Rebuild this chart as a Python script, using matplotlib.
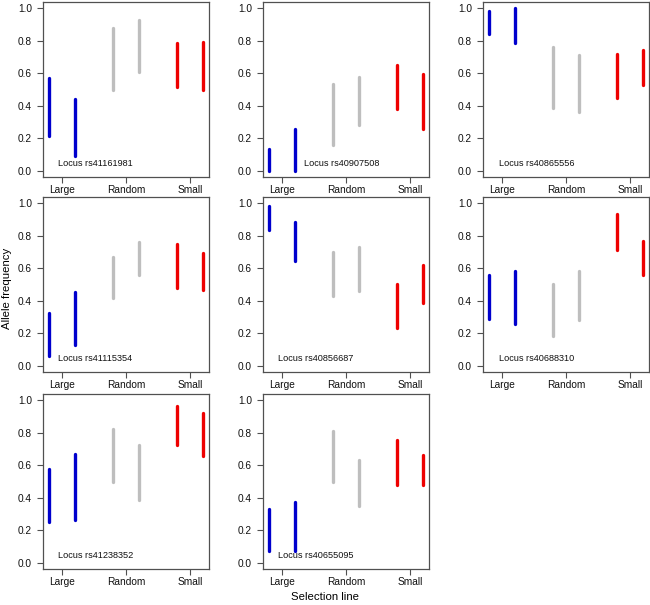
import matplotlib
matplotlib.use("Agg")
import matplotlib.pyplot as plt

plt.rcParams['font.family'] = ['Liberation Sans', 'DejaVu Sans']

# selection lines (x categories) and loci (one panel each)
lines = ['Large', 'Random', 'Small']
loci = ['rs41161981', 'rs40907508', 'rs40865556',
        'rs41115354', 'rs40856687', 'rs40688310',
        'rs41238352', 'rs40655095']

# two replicates per line: Large1, Large2, Random1, Random2, Small1, Small2
lower = [
    [0.215, 0.092, 0.496, 0.605, 0.516, 0.496],
    [0.000, 0.000, 0.156, 0.283, 0.377, 0.258],
    [0.840, 0.785, 0.385, 0.360, 0.445, 0.529],
    [0.058, 0.128, 0.414, 0.557, 0.478, 0.468],
    [0.837, 0.645, 0.429, 0.460, 0.229, 0.384],
    [0.285, 0.258, 0.181, 0.278, 0.713, 0.557],
    [0.247, 0.264, 0.499, 0.388, 0.728, 0.660],
    [0.074, 0.074, 0.499, 0.346, 0.480, 0.480],
]
upper = [
    [0.570, 0.443, 0.880, 0.932, 0.785, 0.793],
    [0.133, 0.258, 0.533, 0.578, 0.650, 0.598],
    [0.984, 1.000, 0.764, 0.711, 0.721, 0.746],
    [0.324, 0.454, 0.670, 0.765, 0.748, 0.697],
    [0.986, 0.887, 0.703, 0.734, 0.503, 0.619],
    [0.561, 0.584, 0.503, 0.584, 0.938, 0.769],
    [0.579, 0.672, 0.823, 0.728, 0.965, 0.924],
    [0.332, 0.373, 0.814, 0.635, 0.755, 0.666],
]

line_colors = ['#0000CD', '#BEBEBE', '#EE0000']
label_x = [0.94, 1.34, 0.95, 0.94, 0.94, 0.95, 0.94, 0.94]

W, H = 650, 605
fig = plt.figure(figsize=(W / 100, H / 100), dpi=100)

col_left = [43, 263, 483]
row_top = [2, 197, 394]
pw, ph = 166, 175
edge = '#505050'

for k, locus in enumerate(loci):
    r, c = divmod(k, 3)
    ax = fig.add_axes([col_left[c] / W, (H - row_top[r] - ph) / H, pw / W, ph / H])
    for i in range(len(lines)):
        for j, off in enumerate([-0.2, 0.2]):
            n = 2 * i + j
            ax.plot([i + 1 + off, i + 1 + off], [lower[k][n], upper[k][n]],
                    color=line_colors[i], lw=2.4, solid_capstyle='round')
    ax.text(label_x[k], 0.045, 'Locus ' + locus, fontsize=6.6, va='center', ha='left',
            color='#111111')
    ax.set_xlim(0.704, 3.296)
    ax.set_ylim(-0.04, 1.04)
    ax.set_xticks([1, 2, 3])
    ax.set_xticklabels(lines)
    ax.set_yticks([0, 0.2, 0.4, 0.6, 0.8, 1.0])
    ax.set_yticklabels(['0.0', '0.2', '0.4', '0.6', '0.8', '1.0'])
    ax.tick_params(labelsize=7.3, length=4, width=0.8, color=edge, labelcolor='#111111')
    ax.tick_params(axis='x', pad=2)
    ax.tick_params(axis='y', pad=4)
    for s in ax.spines.values():
        s.set_color(edge)
        s.set_linewidth(0.9)

fig.text(325 / W, 1 - 597 / H, 'Selection line', fontsize=8.2, ha='center', va='center')
fig.text(7 / W, 1 - 288 / H, 'Allele frequency', fontsize=8.2, ha='center', va='center',
         rotation=90)

fig.savefig('out.png', dpi=100)
